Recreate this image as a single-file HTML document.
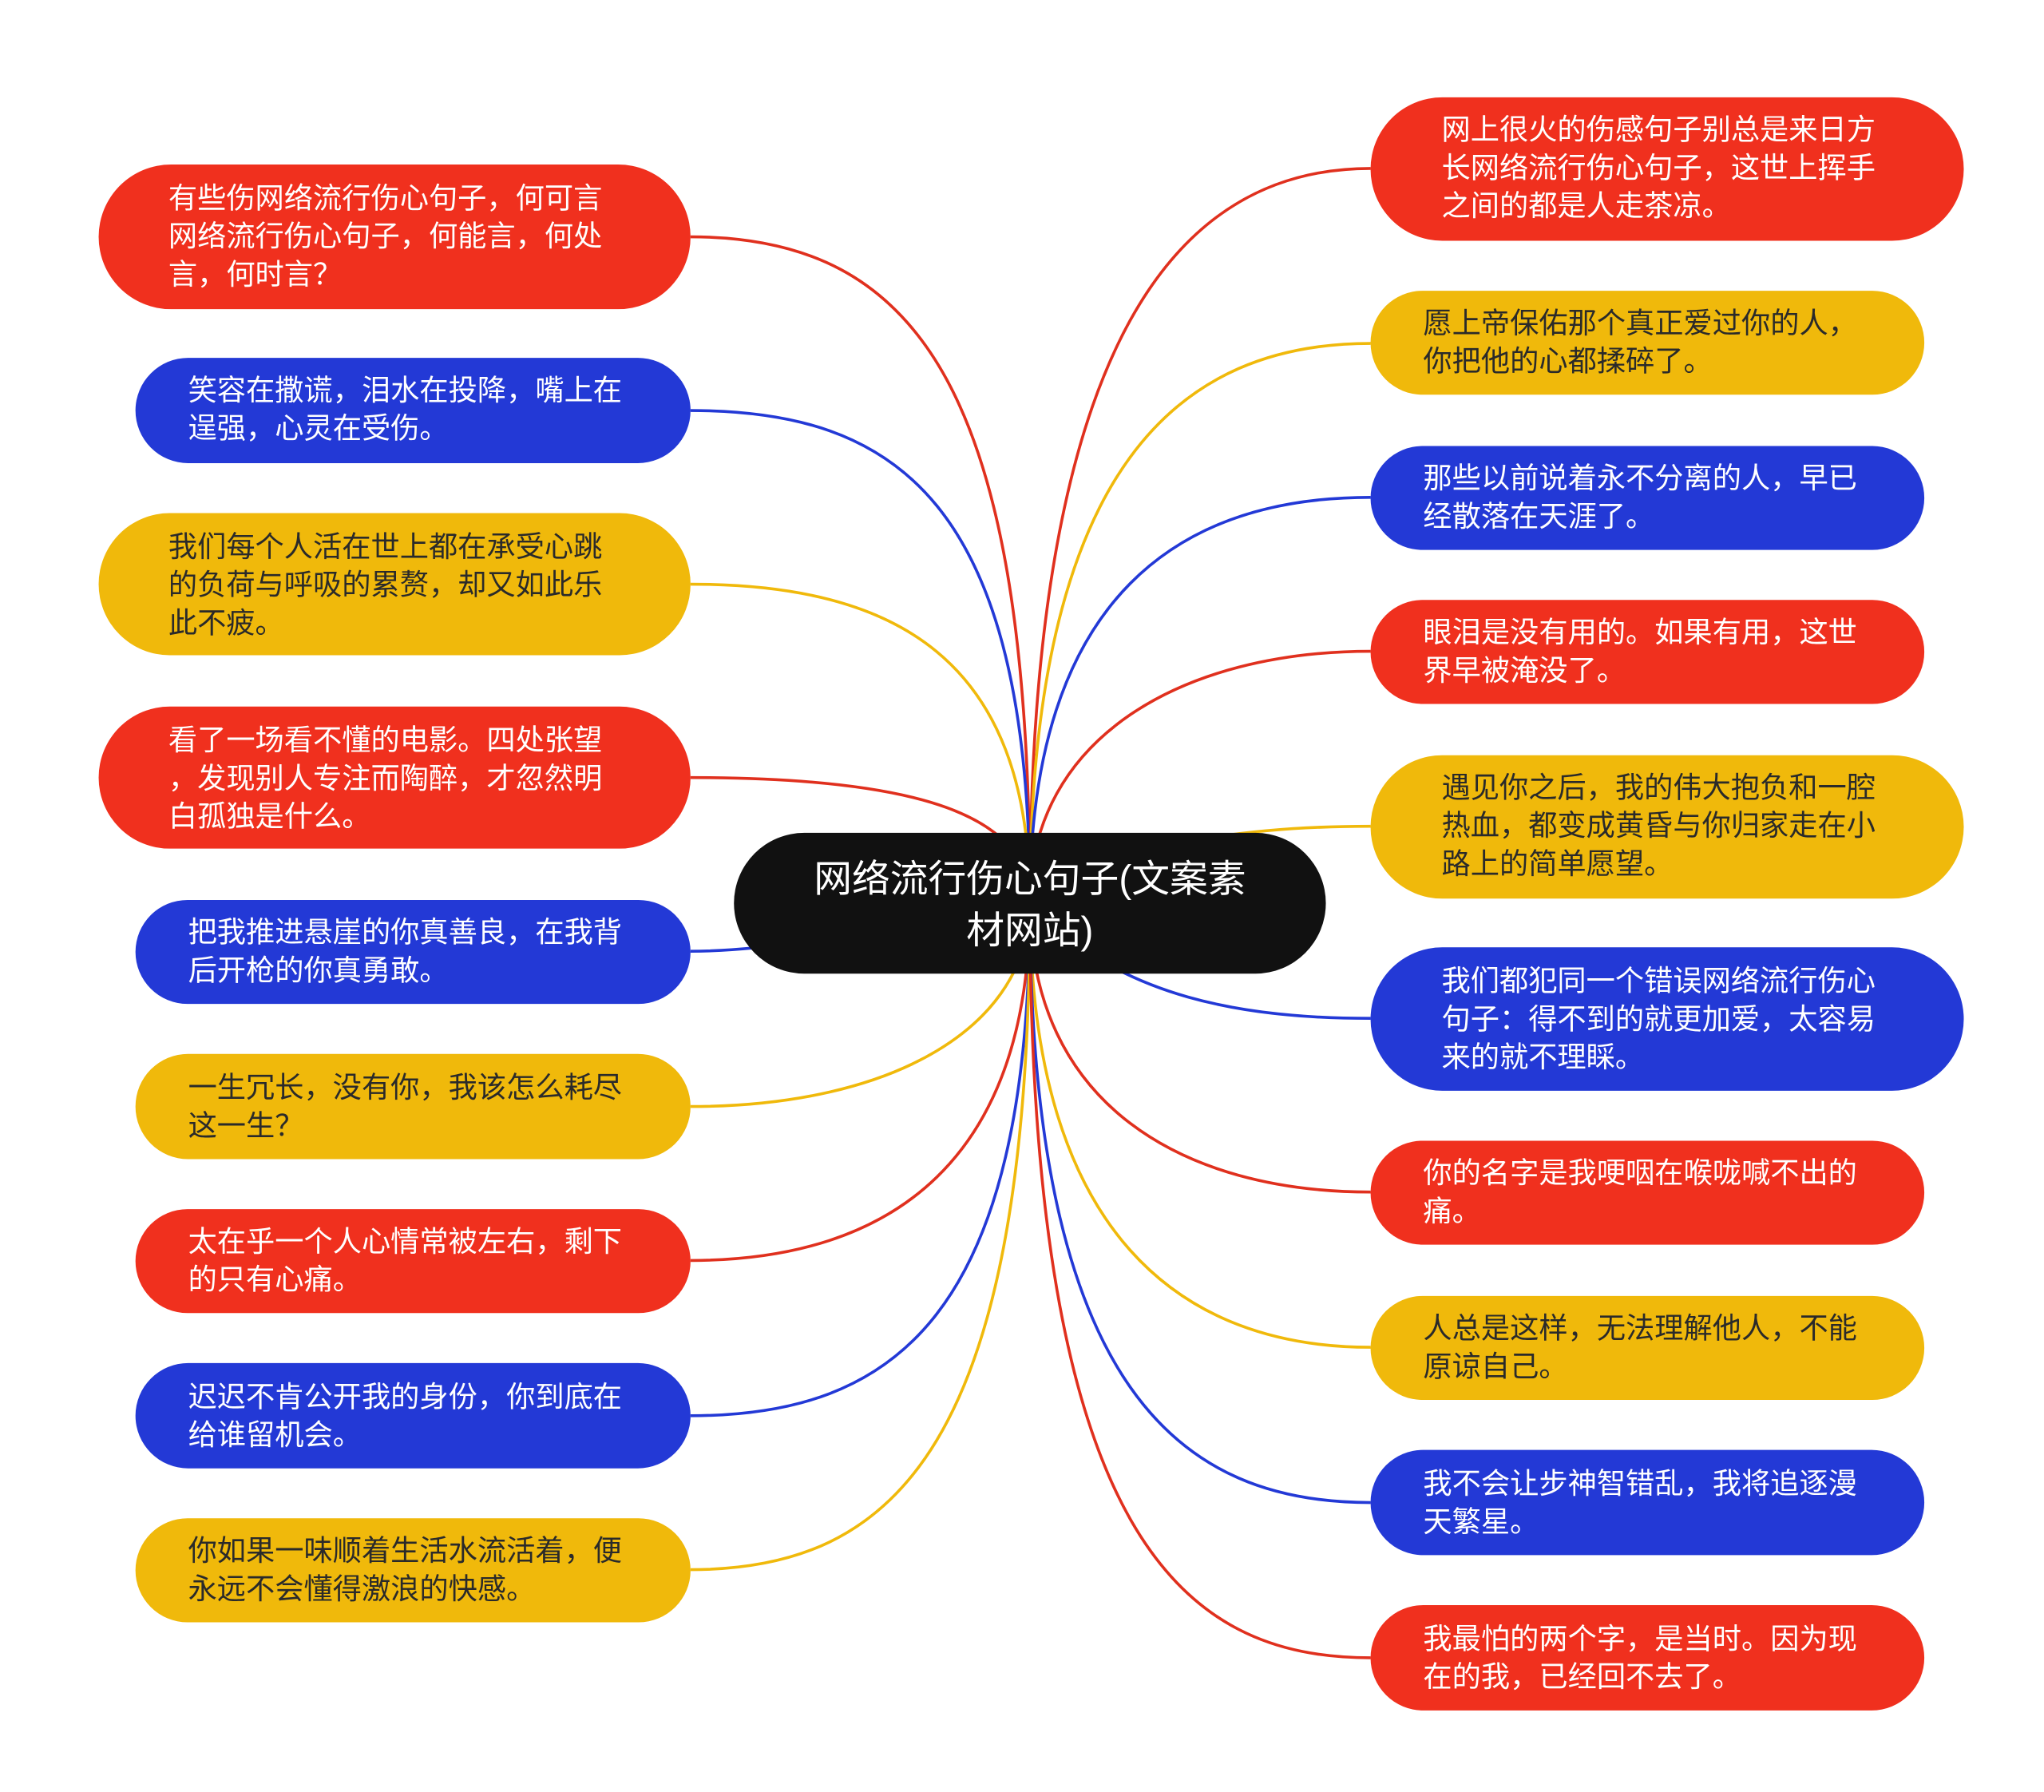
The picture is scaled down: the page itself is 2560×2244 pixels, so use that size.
<!DOCTYPE html>
<html><head><meta charset="utf-8"><style>
html,body{margin:0;padding:0;background:#fff;}
svg{display:block;}
text{font-family:"Liberation Sans","Noto Sans CJK SC",sans-serif;font-size:22px;}
</style></head><body>
<svg width="2560" height="2244" viewBox="0 0 1554 1362" preserveAspectRatio="none" xmlns="http://www.w3.org/2000/svg">
<g fill="none" stroke-width="2.2">
<path d="M783,686 C783,300 700,180 525,180" stroke="#e0301e"/>
<path d="M783,686 C783,380 680,312 525,312" stroke="#2339d6"/>
<path d="M783,686 C783,500 680,444 525,444" stroke="#f0b90b"/>
<path d="M783,686 C783,620 700,591 525,591" stroke="#e0301e"/>
<path d="M783,686 C700,700 600,723 525,723" stroke="#2339d6"/>
<path d="M783,686 C783,780 680,841 525,841" stroke="#f0b90b"/>
<path d="M783,686 C783,880 680,958 525,958" stroke="#e0301e"/>
<path d="M783,686 C783,1000 680,1076 525,1076" stroke="#2339d6"/>
<path d="M783,686 C783,1100 680,1193 525,1193" stroke="#f0b90b"/>
<path d="M783,686 C783,250 900,128 1042,128" stroke="#e0301e"/>
<path d="M783,686 C783,350 900,261 1042,261" stroke="#f0b90b"/>
<path d="M783,686 C783,450 900,378 1042,378" stroke="#2339d6"/>
<path d="M783,686 C783,560 900,495 1042,495" stroke="#e0301e"/>
<path d="M783,686 C850,640 950,628 1042,628" stroke="#f0b90b"/>
<path d="M783,686 C850,760 950,774 1042,774" stroke="#2339d6"/>
<path d="M783,686 C783,840 900,906 1042,906" stroke="#e0301e"/>
<path d="M783,686 C783,940 900,1024 1042,1024" stroke="#f0b90b"/>
<path d="M783,686 C783,1060 900,1142 1042,1142" stroke="#2339d6"/>
<path d="M783,686 C783,1170 900,1260 1042,1260" stroke="#e0301e"/>
</g>
<g>
<rect x="75" y="125" width="450" height="110" rx="55" fill="#f0301e"/>
<rect x="103" y="272" width="422" height="80" rx="40" fill="#2339d6"/>
<rect x="75" y="390" width="450" height="108" rx="54" fill="#f0b90b"/>
<rect x="75" y="537" width="450" height="108" rx="54" fill="#f0301e"/>
<rect x="103" y="684" width="422" height="79" rx="39.5" fill="#2339d6"/>
<rect x="103" y="801" width="422" height="80" rx="40" fill="#f0b90b"/>
<rect x="103" y="919" width="422" height="79" rx="39.5" fill="#f0301e"/>
<rect x="103" y="1036" width="422" height="80" rx="40" fill="#2339d6"/>
<rect x="103" y="1154" width="422" height="79" rx="39.5" fill="#f0b90b"/>
<rect x="1042" y="74" width="451" height="109" rx="54.5" fill="#f0301e"/>
<rect x="1042" y="221" width="421" height="79" rx="39.5" fill="#f0b90b"/>
<rect x="1042" y="339" width="421" height="79" rx="39.5" fill="#2339d6"/>
<rect x="1042" y="456" width="421" height="79" rx="39.5" fill="#f0301e"/>
<rect x="1042" y="574" width="451" height="109" rx="54.5" fill="#f0b90b"/>
<rect x="1042" y="720" width="451" height="109" rx="54.5" fill="#2339d6"/>
<rect x="1042" y="867" width="421" height="79" rx="39.5" fill="#f0301e"/>
<rect x="1042" y="985" width="421" height="79" rx="39.5" fill="#f0b90b"/>
<rect x="1042" y="1102" width="421" height="80" rx="40" fill="#2339d6"/>
<rect x="1042" y="1220" width="421" height="80" rx="40" fill="#f0301e"/>
<rect x="558" y="633" width="450" height="107" rx="53.5" fill="#111"/>
</g>
<g fill="#fff">
<text x="128" y="158">有些伤网络流行伤心句子，何可言</text>
<text x="128" y="187">网络流行伤心句子，何能言，何处</text>
<text x="128" y="216">言，何时言？</text>
<text x="143" y="304">笑容在撒谎，泪水在投降，嘴上在</text>
<text x="143" y="333">逞强，心灵在受伤。</text>
<text x="128" y="570">看了一场看不懂的电影。四处张望</text>
<text x="128" y="599">，发现别人专注而陶醉，才忽然明</text>
<text x="128" y="628">白孤独是什么。</text>
<text x="143" y="716">把我推进悬崖的你真善良，在我背</text>
<text x="143" y="745">后开枪的你真勇敢。</text>
<text x="143" y="951">太在乎一个人心情常被左右，剩下</text>
<text x="143" y="980">的只有心痛。</text>
<text x="143" y="1069">迟迟不肯公开我的身份，你到底在</text>
<text x="143" y="1098">给谁留机会。</text>
<text x="1096" y="106">网上很火的伤感句子别总是来日方</text>
<text x="1096" y="135">长网络流行伤心句子，这世上挥手</text>
<text x="1096" y="164">之间的都是人走茶凉。</text>
<text x="1082" y="371">那些以前说着永不分离的人，早已</text>
<text x="1082" y="400">经散落在天涯了。</text>
<text x="1082" y="488">眼泪是没有用的。如果有用，这世</text>
<text x="1082" y="517">界早被淹没了。</text>
<text x="1096" y="753">我们都犯同一个错误网络流行伤心</text>
<text x="1096" y="782">句子：得不到的就更加爱，太容易</text>
<text x="1096" y="811">来的就不理睬。</text>
<text x="1082" y="899">你的名字是我哽咽在喉咙喊不出的</text>
<text x="1082" y="928">痛。</text>
<text x="1082" y="1135">我不会让步神智错乱，我将追逐漫</text>
<text x="1082" y="1164">天繁星。</text>
<text x="1082" y="1253">我最怕的两个字，是当时。因为现</text>
<text x="1082" y="1282">在的我，已经回不去了。</text>
<text x="783" y="678" text-anchor="middle" style="font-size:29px">网络流行伤心句子(文案素</text>
<text x="783" y="717" text-anchor="middle" style="font-size:29px">材网站)</text>
</g>
<g fill="#2a2a2a">
<text x="128" y="423">我们每个人活在世上都在承受心跳</text>
<text x="128" y="452">的负荷与呼吸的累赘，却又如此乐</text>
<text x="128" y="481">此不疲。</text>
<text x="143" y="834">一生冗长，没有你，我该怎么耗尽</text>
<text x="143" y="863">这一生？</text>
<text x="143" y="1186">你如果一味顺着生活水流活着，便</text>
<text x="143" y="1215">永远不会懂得激浪的快感。</text>
<text x="1082" y="253">愿上帝保佑那个真正爱过你的人，</text>
<text x="1082" y="282">你把他的心都揉碎了。</text>
<text x="1096" y="606">遇见你之后，我的伟大抱负和一腔</text>
<text x="1096" y="635">热血，都变成黄昏与你归家走在小</text>
<text x="1096" y="664">路上的简单愿望。</text>
<text x="1082" y="1017">人总是这样，无法理解他人，不能</text>
<text x="1082" y="1046">原谅自己。</text>
</g>
</svg>
</body></html>
